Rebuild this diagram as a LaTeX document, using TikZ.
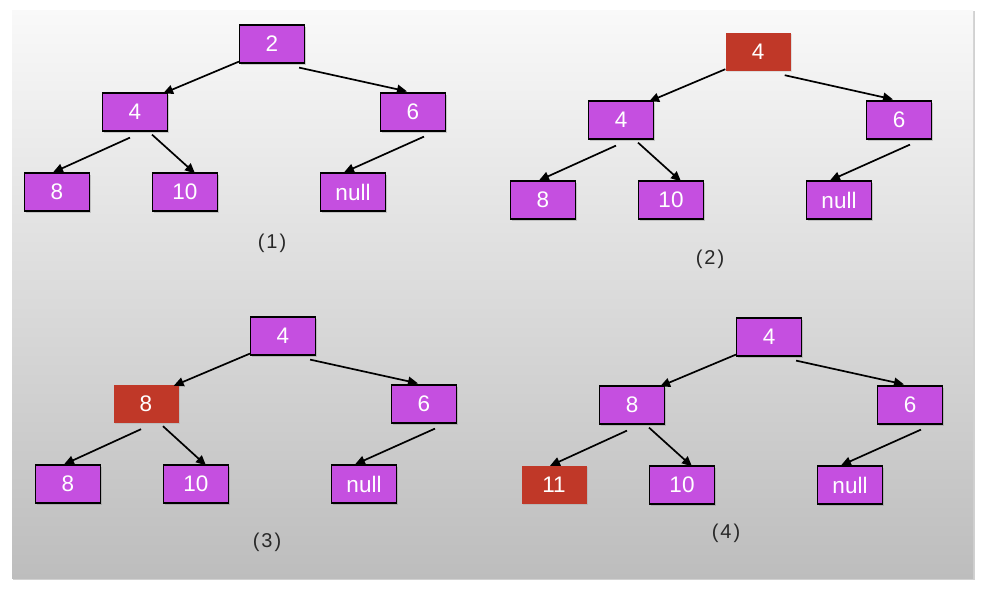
\documentclass[tikz,border=0pt]{standalone}
\usepackage{fontspec}
\setmainfont{Liberation Sans}
\usetikzlibrary{arrows.meta,shadows}
\definecolor{nodepurple}{RGB}{197,79,224}
\definecolor{nodered}{RGB}{192,56,40}
\definecolor{bgtop}{RGB}{249,249,249}
\definecolor{bgbottom}{RGB}{189,189,189}
\definecolor{labelgray}{RGB}{40,40,40}
\tikzset{
  treenode/.style={minimum width=65pt,minimum height=38pt,inner sep=0pt,
    font=\fontsize{22.5}{24}\selectfont,text=white},
  pnode/.style={treenode,fill=nodepurple,draw=black,line width=1.2pt,
    drop shadow={shadow xshift=1.5pt,shadow yshift=-1.5pt,opacity=0.35}},
  rnode/.style={treenode,fill=nodered,
    drop shadow={shadow xshift=1pt,shadow yshift=-1pt,opacity=0.2}},
  edgearrow/.style={line width=1.7pt,-{Triangle[length=10pt,width=9pt]}},
  caption/.style={font=\fontsize{20}{22}\selectfont,text=labelgray}
}
\newcommand\treeedges[1]{%
  \draw[edgearrow] ([yshift=2pt]#1r.south west) -- ([xshift=-5pt,yshift=-1pt]#1l.north east);
  \draw[edgearrow] ([xshift=-6pt,yshift=-4pt]#1r.south east) -- ([xshift=-6pt,yshift=1pt]#1t.north);
  \draw[edgearrow] ([xshift=-5pt,yshift=-6pt]#1l.south) -- ([xshift=-4pt]#1ll.north);
  \draw[edgearrow] ([xshift=17pt,yshift=-3pt]#1l.south) -- ([xshift=10pt,yshift=-1pt]#1lr.north);
  \draw[edgearrow] ([xshift=11pt,yshift=-5pt]#1t.south) -- ([xshift=-9pt]#1tl.north);
}
\begin{document}
\begin{tikzpicture}[x=1pt,y=-1pt]
  \useasboundingbox (0,0) rectangle (983,589);
  \fill[white] (0,0) rectangle (983,589);
  % panel
  \fill[black!18] (13,11) rectangle (975,580);
  \shade[top color=bgtop,bottom color=bgbottom] (12,10) rectangle (973,578);

  % tree 1
  \begin{scope}[shift={(272,44)}]
    \node[pnode] (ar) at (0,0) {2};
    \node[pnode] (al) at (-137,68) {4};
    \node[pnode] (at) at (141,68) {6};
    \node[pnode] (all) at (-215,148) {8};
    \node[pnode] (alr) at (-87,148) {10};
    \node[pnode] (atl) at (81,148) {null};
  \end{scope}
  \treeedges{a}
  \node[caption] (cap1) at (272,243) {(\hspace{2pt}1\hspace{2pt})};

  % tree 2
  \begin{scope}[shift={(758,52)}]
    \node[rnode] (br) at (0,0) {4};
    \node[pnode] (bl) at (-137,68) {4};
    \node[pnode] (bt) at (141,68) {6};
    \node[pnode] (bll) at (-215,148) {8};
    \node[pnode] (blr) at (-87,148) {10};
    \node[pnode] (btl) at (81,148) {null};
  \end{scope}
  \treeedges{b}
  \node[caption] (cap2) at (710,259) {(\hspace{2pt}2\hspace{2pt})};

  % tree 3
  \begin{scope}[shift={(283,336)}]
    \node[pnode] (cr) at (0,0) {4};
    \node[rnode] (cl) at (-137,68) {8};
    \node[pnode] (ct) at (141,68) {6};
    \node[pnode] (cll) at (-215,148) {8};
    \node[pnode] (clr) at (-87,148) {10};
    \node[pnode] (ctl) at (81,148) {null};
  \end{scope}
  \treeedges{c}
  \node[caption] (cap3) at (267,542) {(\hspace{2pt}3\hspace{2pt})};

  % tree 4
  \begin{scope}[shift={(769,337)}]
    \node[pnode] (dr) at (0,0) {4};
    \node[pnode] (dl) at (-137,68) {8};
    \node[pnode] (dt) at (141,68) {6};
    \node[rnode] (dll) at (-215,148) {11};
    \node[pnode] (dlr) at (-87,148) {10};
    \node[pnode] (dtl) at (81,148) {null};
  \end{scope}
  \treeedges{d}
  \node[caption] (cap4) at (726,533) {(\hspace{2pt}4\hspace{2pt})};
\end{tikzpicture}
\end{document}
